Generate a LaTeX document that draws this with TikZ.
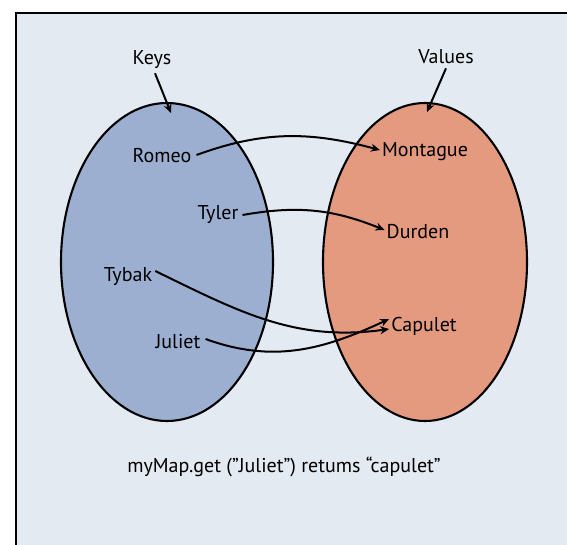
\documentclass[tikz,border=0pt]{standalone}
\usepackage{fontspec}
\setmainfont{PT Sans}
\usetikzlibrary{arrows.meta}
\definecolor{panel}{HTML}{E4EAF2}
\definecolor{keyfill}{HTML}{9DAFD0}
\definecolor{valfill}{HTML}{E49A7E}
\tikzset{
  x=1pt, y=-1pt,
  setshape/.style={draw=black, line width=2.1pt},
  lbl/.style={inner sep=1pt, font=\fontsize{20}{24}\selectfont},
  link/.style={line width=2pt, -{Stealth[length=9pt,width=8pt]}},
}
\begin{document}
\begin{tikzpicture}
  \useasboundingbox (0,0) rectangle (567,545);
  \fill[white] (0,0) rectangle (567,545);
  % panel with its top and left edge
  \fill[panel] (16,13) rectangle (567,545);
  \draw[line width=1.8pt] (16,545) -- (16,13) -- (567,13);

  % the two sets
  \filldraw[setshape, fill=keyfill] (167,262) ellipse [x radius=106pt, y radius=159pt];
  \filldraw[setshape, fill=valfill] (425,262) ellipse [x radius=102pt, y radius=159pt];

  % headings
  \node[lbl] (keys) at (152,60) {Keys};
  \node[lbl] (values) at (446,57) {Values};
  \coordinate (ktop) at (171,113);
  \coordinate (vtop) at (427,112);
  \draw[link] (keys.south) ++(3,3) -- (ktop);
  \draw[link] (values.south) ++(0,3) -- (vtop);

  % keys
  \node[lbl] (romeo) at (162,156) {Romeo};
  \node[lbl] (tyler) at (218,215) {Tyler};
  \node[lbl] (tybak) at (128,277) {Tybak};
  \node[lbl] (juliet) at (178,342) {Juliet};

  % values
  \node[lbl] (montague) at (425,152) {Montague};
  \node[lbl] (durden) at (418,232) {Durden};
  \node[lbl] (capulet) at (424,326) {Capulet};

  % mappings
  \draw[link] ([xshift=4pt,yshift=1pt]romeo.east) to[out=20, in=165] ([xshift=-1pt,yshift=2pt]montague.west);
  \draw[link] ([xshift=3pt]tyler.east) to[out=10, in=158] ([xshift=-1pt,yshift=2pt]durden.west);
  \draw[link] ([xshift=2pt,yshift=6pt]tybak.east) to[out=-26, in=188] ([xshift=-1pt,yshift=-3pt]capulet.west);
  \draw[link] ([xshift=4pt,yshift=3pt]juliet.east) to[out=-20, in=205] ([xshift=-1pt,yshift=7pt]capulet.west);

  % caption
  \node[lbl] (caption) at (284,467) {myMap.get (”Juliet”) retums “capulet”};
\end{tikzpicture}
\end{document}
